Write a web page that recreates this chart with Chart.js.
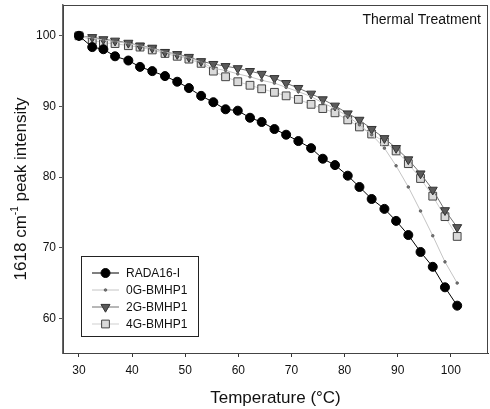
<!DOCTYPE html>
<html>
<head>
<meta charset="utf-8">
<script src="https://cdn.jsdelivr.net/npm/chart.js@4"></script>
<style>
  html, body { margin: 0; padding: 0; background: #fff; }
  #wrap { width: 490px; height: 409px; position: relative; }
</style>
</head>
<body>
<div id="wrap"><canvas id="chart"></canvas></div>
<script>
// Temperatures (°C) at which the spectra were taken
const temps = [30, 32.5, 34.6, 36.8, 39.3, 41.5, 43.8, 46.2, 48.5, 50.7, 53.0, 55.3, 57.6, 59.9, 62.2, 64.4,
  66.8, 69.0, 71.3, 73.7, 75.9, 78.2, 80.6, 82.8, 85.1, 87.5, 89.7, 92.0, 94.3, 96.6, 98.9, 101.2];

// 1618 cm-1 peak intensity (%)
const rada16 = [100, 98.4, 98.1, 97.1, 96.5, 95.6, 95.0, 94.3, 93.5, 92.6, 91.5, 90.6, 89.6, 89.4, 88.4, 87.8,
  86.8, 86.0, 85.1, 84.1, 82.6, 81.7, 80.2, 78.6, 76.9, 75.5, 73.8, 71.8, 69.4, 67.3, 64.4, 61.8];
const g0 = [100, 99.7, 99.4, 99.2, 98.9, 98.6, 98.2, 97.7, 97.3, 96.9, 96.3, 95.4, 95.1, 94.6, 94.2, 93.7,
  93.3, 92.7, 92.1, 91.4, 90.5, 89.7, 88.6, 87.4, 86.0, 84.1, 81.6, 78.6, 75.2, 71.7, 68.0, 65.0];
const g2 = [100, 99.8, 99.5, 99.3, 99.0, 98.6, 98.3, 97.7, 97.4, 97.0, 96.4, 96.0, 95.7, 95.4, 95.0, 94.6,
  94.0, 93.3, 92.6, 91.8, 91.0, 90.1, 89.0, 88.1, 86.8, 85.5, 84.1, 82.5, 80.5, 78.2, 75.3, 72.9];
const g4 = [100, 99.4, 99.0, 98.9, 98.6, 98.4, 98.0, 97.5, 97.1, 96.7, 96.1, 95.0, 94.2, 93.5, 93.0, 92.5,
  92.0, 91.5, 91.0, 90.3, 89.7, 89.1, 88.1, 87.1, 86.1, 85.0, 83.7, 81.9, 79.8, 77.3, 74.4, 71.6];

const xTicks = [30, 40, 50, 60, 70, 80, 90, 100];
const yTicks = [60, 70, 80, 90, 100];

const FONT = "'Liberation Sans', Arial, sans-serif";

const pts = vals => vals.map((v, i) => ({ x: temps[i], y: v }));

// frame, inset title, legend box and y axis title
const decorations = {
  id: 'decorations',
  afterDraw(chart) {
    const { ctx, chartArea: a } = chart;
    ctx.save();

    ctx.strokeStyle = '#444';
    ctx.lineWidth = 1;
    ctx.strokeRect(a.left + 0.5, a.top + 0.5, a.right - a.left - 1, a.bottom - a.top);

    ctx.fillStyle = '#111';
    ctx.font = '14px ' + FONT;
    ctx.textAlign = 'right';
    ctx.textBaseline = 'middle';
    ctx.fillText('Thermal Treatment', 481, 20);

    // legend
    ctx.strokeStyle = '#222';
    ctx.strokeRect(81.5, 256.5, 117, 80);
    const rowY = [273, 290, 307, 324];
    chart.data.datasets.forEach((ds, i) => {
      const y = rowY[i];
      ctx.strokeStyle = ds.borderColor;
      ctx.lineWidth = ds.borderWidth;
      ctx.beginPath();
      ctx.moveTo(92, y);
      ctx.lineTo(119, y);
      ctx.stroke();
      ctx.fillStyle = ds.pointBackgroundColor;
      ctx.strokeStyle = ds.pointBorderColor;
      ctx.lineWidth = ds.pointBorderWidth;
      Chart.helpers.drawPoint(ctx, {
        pointStyle: ds.pointStyle,
        radius: ds.pointRadius,
        rotation: ds.pointRotation || 0,
        borderWidth: ds.pointBorderWidth
      }, 105.5, y);
      ctx.fillStyle = '#111';
      ctx.font = '12px ' + FONT;
      ctx.textAlign = 'left';
      ctx.fillText(ds.label, 126, y + 0.5);
    });

    // y title with superscript
    ctx.translate(21, 189);
    ctx.rotate(-Math.PI / 2);
    ctx.fillStyle = '#111';
    ctx.textBaseline = 'middle';
    ctx.textAlign = 'left';
    const big = '17px ' + FONT, small = '10px ' + FONT;
    const p1 = '1618 cm', sup = '-1', p2 = ' peak intensity';
    ctx.font = big; const w1 = ctx.measureText(p1).width, w3 = ctx.measureText(p2).width;
    ctx.font = small; const w2 = ctx.measureText(sup).width;
    let x = -(w1 + w2 + w3) / 2;
    ctx.font = big; ctx.fillText(p1, x, 0); x += w1;
    ctx.font = small; ctx.fillText(sup, x, -6); x += w2;
    ctx.font = big; ctx.fillText(p2, x, 0);
    ctx.restore();
  }
};

new Chart(document.getElementById('chart'), {
  type: 'line',
  data: {
    datasets: [
      {
        label: 'RADA16-I',
        data: pts(rada16),
        borderColor: '#000',
        borderWidth: 1,
        pointStyle: 'circle',
        pointRadius: 4.5,
        pointBackgroundColor: '#000',
        pointBorderColor: '#000',
        pointBorderWidth: 1,
      },
      {
        label: '0G-BMHP1',
        data: pts(g0),
        borderColor: '#c4c4c4',
        borderWidth: 1,
        pointStyle: 'circle',
        pointRadius: 1.3,
        pointBackgroundColor: '#777',
        pointBorderColor: '#555',
        pointBorderWidth: 0.8,
      },
      {
        label: '2G-BMHP1',
        data: pts(g2),
        borderColor: '#707070',
        borderWidth: 1,
        pointStyle: 'triangle',
        pointRotation: 180,
        pointRadius: 5.2,
        pointBackgroundColor: '#5a5a5a',
        pointBorderColor: '#333',
        pointBorderWidth: 1,
      },
      {
        label: '4G-BMHP1',
        data: pts(g4),
        borderColor: '#cfcfcf',
        borderWidth: 1,
        pointStyle: 'rect',
        pointRadius: 5.5,
        pointBackgroundColor: '#dadada',
        pointBorderColor: '#444',
        pointBorderWidth: 1,
      },
    ],
  },
  options: {
    responsive: true,
    maintainAspectRatio: false,
    animation: false,
    devicePixelRatio: 1,
    layout: { autoPadding: false, padding: { top: 5, right: 2, left: 0, bottom: 0 } },
    plugins: {
      legend: { display: false },
      tooltip: { enabled: false },
    },
    scales: {
      x: {
        type: 'linear',
        min: 27,
        max: 107,
        afterFit: s => { s.height = 56; s.paddingLeft = 0; s.paddingRight = 0; },
        afterBuildTicks: s => { s.ticks = xTicks.map(v => ({ value: v })); },
        grid: { drawOnChartArea: false, drawTicks: true, tickLength: 4, color: '#333' },
        border: { display: true, color: '#333', width: 1 },
        ticks: { color: '#111', font: { family: FONT, size: 12 }, padding: 6, maxRotation: 0 },
        title: {
          display: true,
          text: 'Temperature (°C)',
          color: '#111',
          font: { family: FONT, size: 17 },
          padding: { top: 9, bottom: 0 },
        },
      },
      y: {
        type: 'linear',
        min: 55.1,
        max: 104.36,
        afterFit: s => { s.width = 63; s.paddingTop = 0; s.paddingBottom = 0; },
        afterBuildTicks: s => { s.ticks = yTicks.map(v => ({ value: v })); },
        grid: { drawOnChartArea: false, drawTicks: true, tickLength: 4, color: '#555' },
        border: { display: true, color: '#666', width: 1.5 },
        ticks: { color: '#111', font: { family: FONT, size: 12 }, padding: 3 },
      },
    },
  },
  plugins: [decorations],
});
</script>
</body>
</html>
